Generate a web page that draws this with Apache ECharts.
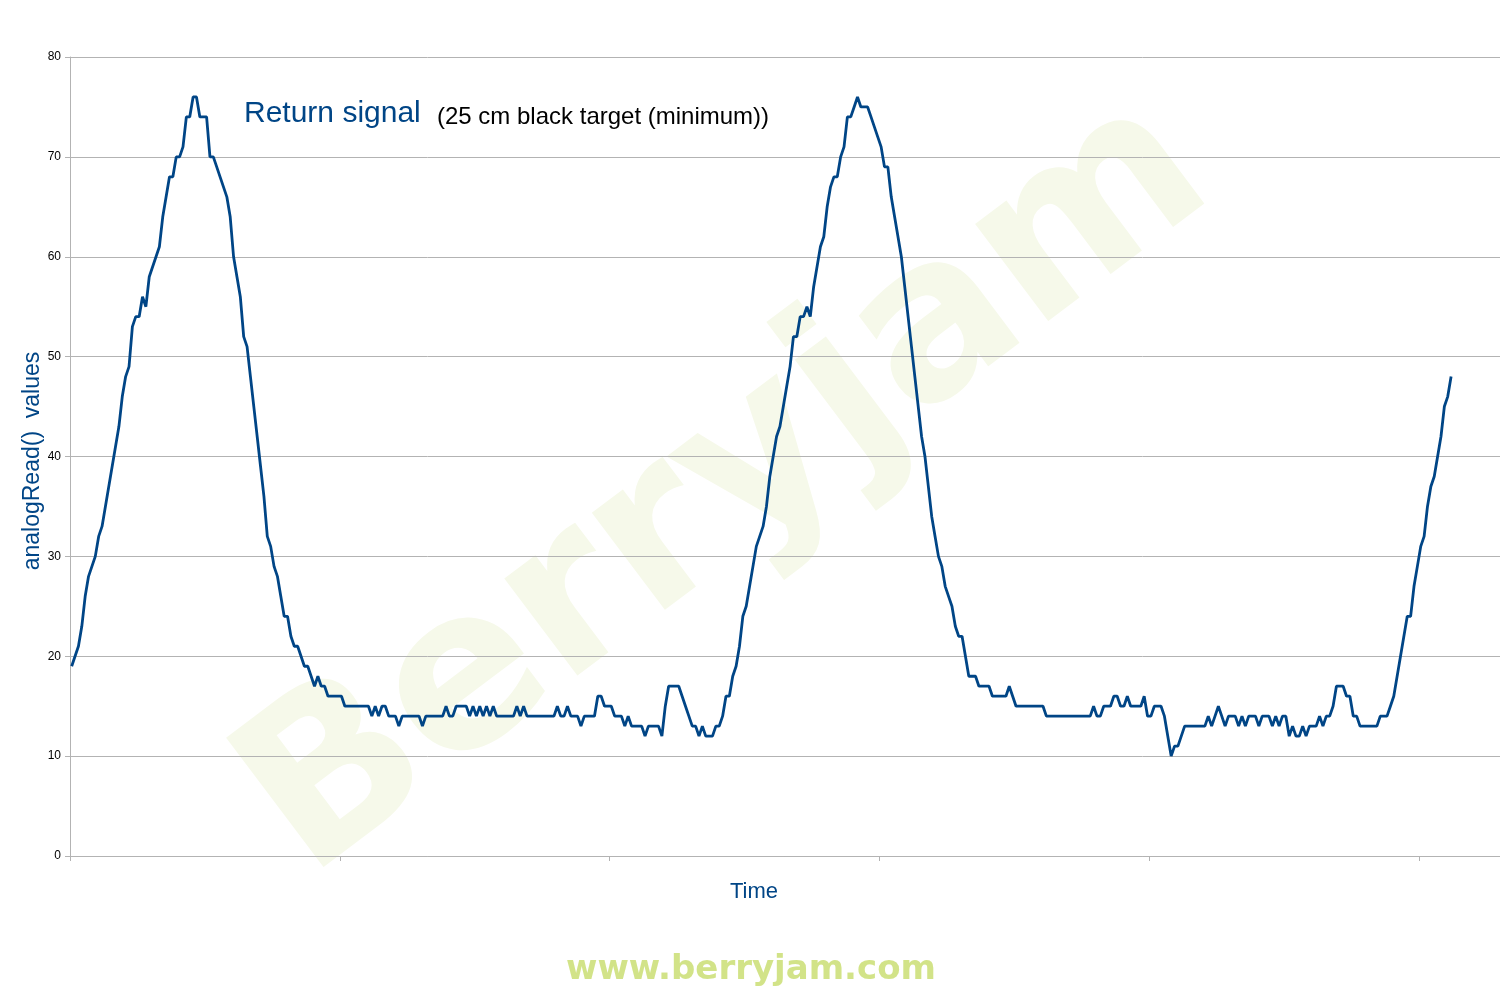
<!DOCTYPE html>
<html>
<head>
<meta charset="utf-8">
<script src="https://cdn.jsdelivr.net/npm/echarts@6/dist/echarts.min.js"></script>
<style>
  html, body { margin: 0; padding: 0; background: #ffffff; }
  #chart { width: 1500px; height: 1000px; }
</style>
</head>
<body>
<div id="chart"></div>
<script>
// analogRead() samples, in order of time
const peak1 = [
  19,20,21,23,26,28,29,30,32,33,
  35,37,39,41,43,46,48,49,53,54,
  54,56,55,58,59,60,61,64,66,68,
  68,70,70,71,74,74,76,76,74,74,
  74,70,70,69,68,67,66,64,60,58,
  56,52,51,48,45,42,39,36,32,31,
  29,28,26,24,24,22,21,21,20,19,
  19,18,17,18,17,17,16,16,16,16,
  16
];
const floor1 = [
  15,15,15,15,15,15,15,15,14,15,
  14,15,15,14,14,14,13,14,14,14,
  14,14,14,13,14,14,14,14,14,14,
  15,14,14,15,15,15,15,14,15,14,
  15,14,15,14,15,14,14,14,14,14,
  14,15,14,15,14,14,14,14,14,14,
  14,14,14,15,14,14,15,14,14,14,
  13,14,14,14,14,16,16,15,15,15,
  14,14,14,13,14,13,13,13,13,12,
  13,13,13,13,12,15,17,17,17,17,
  16,15,14,13,13,12,13,12,12,12,
  13,13,14
];
const peak2 = [
  16,16,18,19,21,24,25,
  27,29,31,32,33,35,38,40,42,43,
  45,47,49,52,52,54,54,55,54,57,
  59,61,62,65,67,68,68,70,71,74,
  74,75,76,75,75,75,74,73,72,71,
  69,69,66,64,62,60,57,54,51,48,
  45,42,40,37,34,32,30,29,27,26,
  25,23,22,22,20,18,18,18,17,17,
  17,17,16,16,16,16,16,17,16,15,
  15,15,15,15,15,15,15,15
];
const floor2 = [
  14,14,14,14,14,14,14,14,14,14,14,14,14,14,
  15,14,14,15,15,15,16,16,
  15,15,16,15,15,15,15,16,14,14,
  15,15,15,14,12,10,11,11,12,13,
  13,13,13,13,13,13,14,13,14,15,
  14,13,14,14,14,13,14,13,14,14,
  14,13,14,14,14,13,14,13,14,14,
  12,13,12,12,13,12,13,13,13,14,
  13,14,14,15,17,17,17,16,16,14,
  14,13,13,13,13,13,13,14,14,14,15,16
];
const rise3 = [18,20,22,24,24,27,29,31,32,35,37,38,40,42,45,46,48];

const yTicks = [0,10,20,30,40,50,60,70,80];
const xTickPositions = [0,80,160,240,320,400];
const sampleSlots = 424;

const titleMain = 'Return signal';
const titleSub = '(25 cm black target (minimum))';
const yName = 'analogRead()  values';
const xName = 'Time';

const signal = [].concat(peak1, floor1, peak2, floor2, rise3);
const seriesData = signal.map((v, i) => [i + 0.5, v]);

const chart = echarts.init(document.getElementById('chart'), null, { renderer: 'canvas' });
const BLUE = '#004586';
chart.setOption({
  animation: false,
  backgroundColor: '#ffffff',
  grid: { left: 70, right: 0, top: 57, bottom: 144, containLabel: false },
  xAxis: {
    type: 'value',
    min: 0,
    max: sampleSlots,
    interval: 80,
    axisLine: { show: true, lineStyle: { color: '#b3b3b3', width: 1 } },
    axisTick: { show: true, length: 5, lineStyle: { color: '#b3b3b3' }, customValues: xTickPositions },
    axisLabel: { show: false },
    splitLine: { show: false }
  },
  yAxis: {
    type: 'value',
    min: yTicks[0],
    max: yTicks[yTicks.length - 1],
    interval: 10,
    axisLine: { show: true, lineStyle: { color: '#b3b3b3', width: 1 } },
    axisTick: { show: true, length: 5, lineStyle: { color: '#b3b3b3' } },
    axisLabel: { color: '#000000', fontSize: 12, fontFamily: 'Liberation Sans', margin: 9 },
    splitLine: { show: true, lineStyle: { color: '#b3b3b3', width: 1 } }
  },
  graphic: [
    {
      type: 'text', z: -100, x: 728, y: 490, rotation: 37 * Math.PI / 180,
      style: {
        text: 'Berryjam', fill: '#f6f9ea', font: 'bold 222px "DejaVu Sans"',
        align: 'center', verticalAlign: 'middle'
      }
    },
    {
      type: 'text', x: 244, y: 114,
      style: { text: titleMain, fill: BLUE, font: '30px "Liberation Sans"', verticalAlign: 'middle' }
    },
    {
      type: 'text', x: 437, y: 117,
      style: { text: titleSub, fill: '#000000', font: '24px "Liberation Sans"', verticalAlign: 'middle' }
    },
    {
      type: 'text', x: 754, y: 892,
      style: { text: xName, fill: BLUE, font: '22px "Liberation Sans"', align: 'center', verticalAlign: 'middle' }
    },
    {
      type: 'text', x: 33, y: 461, rotation: Math.PI / 2,
      style: { text: yName, fill: BLUE, font: '23px "Liberation Sans"', align: 'center', verticalAlign: 'middle' }
    },
    {
      type: 'text', x: 751, y: 970,
      style: {
        text: 'www.berryjam.com', fill: '#d2e388', font: 'bold 34px "DejaVu Sans"',
        align: 'center', verticalAlign: 'middle'
      }
    }
  ],
  series: [{
    type: 'line',
    data: seriesData,
    showSymbol: false,
    symbol: 'none',
    lineStyle: { color: BLUE, width: 2.8 },
    z: 5
  }]
});
</script>
</body>
</html>
